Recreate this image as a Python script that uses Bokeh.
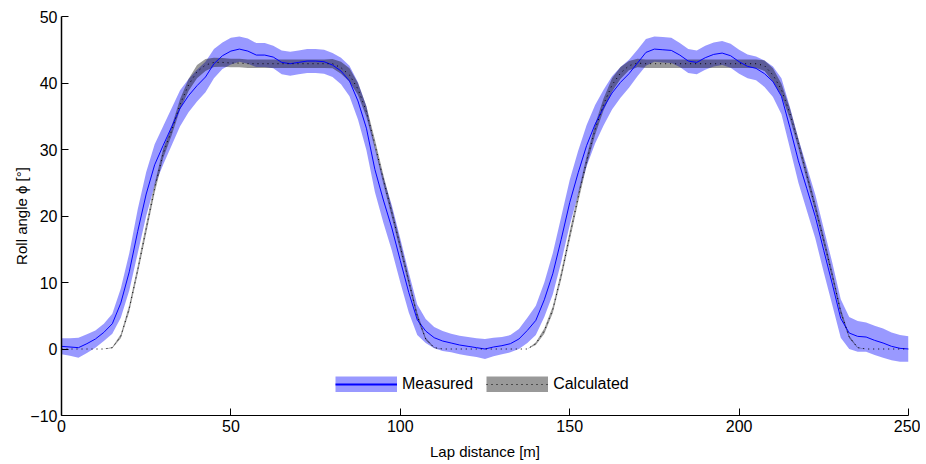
from bokeh.plotting import figure
from bokeh.models import Range1d, Legend, LegendItem, FixedTicker, ColumnDataSource
from bokeh.embed import file_html
from bokeh.resources import INLINE

# Lap distance grid [m]
dist = [0, 2.5, 5, 7.5, 10, 12.5, 15, 17.5, 20, 22.5, 25, 27.5, 30, 32.5, 35, 37.5,
        40, 42.5, 45, 47.5, 50, 52.5, 55, 57.5, 60, 62.5, 65, 67.5, 70, 72.5, 75, 77.5,
        80, 82.5, 85, 87.5, 90, 92.5, 95, 97.5, 100, 102.5, 105, 107.5, 110, 112.5, 115,
        117.5, 120, 122.5, 125, 127.5, 130, 132.5, 135, 137.5, 140, 142.5, 145, 147.5,
        150, 152.5, 155, 157.5, 160, 162.5, 165, 167.5, 170, 172.5, 175, 177.5, 180,
        182.5, 185, 187.5, 190, 192.5, 195, 197.5, 200, 202.5, 205, 207.5, 210, 212.5,
        215, 217.5, 220, 222.5, 225, 227.5, 230, 232.5, 235, 237.5, 240, 242.5, 245,
        247.5, 250]

# Measured roll angle (mean) and its spread
measured = [0.4, 0.3, 0.2, 0.8, 1.5, 2.5, 3.8, 6.9, 11.6, 17.7, 23.3, 27.7, 30.6, 33.4,
            36.2, 38.1, 39.6, 40.9, 42.9, 44.1, 44.8, 45.1, 44.8, 44.2, 44.2, 43.9, 43.1,
            42.9, 43.1, 43.3, 43.3, 43.2, 42.7, 41.8, 40.3, 37.3, 33.2, 27.0, 22.4, 18.2,
            13.3, 8.5, 4.4, 2.7, 1.7, 1.2, 0.9, 0.6, 0.4, 0.2, 0.0, 0.3, 0.5, 0.8, 1.5,
            2.8, 4.3, 7.4, 11.3, 16.5, 22.0, 26.5, 30.6, 33.8, 36.3, 38.5, 40.1, 41.4,
            43.0, 44.6, 45.1, 45.0, 44.9, 44.2, 43.3, 43.1, 43.8, 44.3, 44.5, 44.1, 43.2,
            42.5, 42.2, 41.4, 40.2, 38.0, 33.3, 28.3, 24.1, 19.9, 14.8, 9.8, 4.6, 2.4,
            1.9, 1.8, 1.3, 0.9, 0.4, 0.1, 0.0]
measured_sd = [1.2, 1.3, 1.5, 1.4, 1.3, 1.3, 1.5, 2.2, 2.8, 3.3, 3.3, 3.1, 2.9, 2.8, 2.7,
               2.5, 2.4, 2.3, 2.2, 2.0, 2.0, 1.9, 1.9, 1.8, 1.8, 1.7, 1.8, 1.8, 1.8, 1.8,
               1.8, 1.8, 1.8, 2.0, 2.3, 2.8, 3.3, 3.4, 3.4, 3.4, 3.3, 3.0, 2.3, 1.8, 1.6,
               1.5, 1.4, 1.4, 1.4, 1.4, 1.5, 1.4, 1.3, 1.3, 1.5, 1.9, 2.2, 2.6, 3.1, 3.4,
               3.4, 3.3, 3.1, 2.9, 2.7, 2.5, 2.3, 2.1, 2.0, 2.0, 1.9, 1.9, 1.9, 1.8, 1.8,
               1.8, 1.8, 1.8, 1.8, 1.8, 1.8, 1.8, 1.8, 2.0, 2.3, 2.7, 3.1, 3.3, 3.3, 3.3,
               3.3, 3.2, 2.9, 2.4, 2.3, 2.2, 2.2, 2.2, 2.1, 2.0, 1.9]

# Calculated roll angle and its spread
calculated = [0.0, 0.0, 0.0, 0.0, 0.0, 0.0, 0.2, 1.9, 6.1, 11.9, 18.1, 24.2, 29.4, 32.8,
              36.8, 39.7, 41.7, 42.7, 43.1, 43.1, 43.0, 43.0, 42.9, 42.9, 42.9, 42.9, 42.9,
              42.9, 42.9, 42.9, 42.9, 42.9, 42.9, 42.3, 41.2, 39.1, 35.7, 30.8, 25.5, 20.5,
              15.4, 10.2, 5.0, 1.5, 0.2, 0.0, 0.0, 0.0, 0.0, 0.0, 0.0, 0.0, 0.0, 0.0, 0.0,
              0.0, 0.8, 2.7, 5.9, 11.1, 17.0, 22.8, 28.3, 33.0, 36.8, 39.7, 41.5, 42.6,
              43.0, 42.9, 42.9, 42.9, 42.9, 42.9, 42.9, 42.9, 42.9, 42.9, 42.9, 42.9, 42.9,
              42.9, 42.9, 42.6, 41.2, 39.0, 35.4, 30.9, 26.1, 21.3, 16.3, 11.1, 5.6, 1.8,
              0.2, 0.0, 0.0, 0.0, 0.0, 0.0, 0.0]
calculated_sd = [0.0, 0.0, 0.0, 0.0, 0.0, 0.0, 0.1, 0.3, 0.5, 0.6, 0.7, 0.7, 0.7, 0.7,
                 0.8, 0.9, 1.0, 0.9, 0.7, 0.65, 0.65, 0.65, 0.65, 0.65, 0.65, 0.65, 0.65,
                 0.65, 0.65, 0.65, 0.65, 0.65, 0.7, 0.9, 1.0, 0.9, 0.8, 0.7, 0.7, 0.7,
                 0.7, 0.6, 0.5, 0.2, 0.05, 0.0, 0.0, 0.0, 0.0, 0.0, 0.0, 0.0, 0.0, 0.0,
                 0.0, 0.0, 0.2, 0.4, 0.5, 0.6, 0.7, 0.7, 0.7, 0.8, 0.9, 1.0, 0.9, 0.7,
                 0.65, 0.65, 0.65, 0.65, 0.65, 0.65, 0.65, 0.65, 0.65, 0.65, 0.65, 0.65,
                 0.65, 0.65, 0.65, 0.8, 1.0, 0.9, 0.8, 0.7, 0.7, 0.7, 0.7, 0.6, 0.5, 0.2,
                 0.05, 0.0, 0.0, 0.0, 0.0, 0.0, 0.0]

x_ticks = [0, 50, 100, 150, 200, 250]
y_ticks = [-10, 0, 10, 20, 30, 40, 50]
series_labels = ["Measured", "Calculated"]

src = ColumnDataSource(dict(
    d=dist,
    m=measured,
    m_lo=[a - b for a, b in zip(measured, measured_sd)],
    m_hi=[a + b for a, b in zip(measured, measured_sd)],
    c=calculated,
    c_lo=[a - b for a, b in zip(calculated, calculated_sd)],
    c_hi=[a + b for a, b in zip(calculated, calculated_sd)],
))

FONT = "Liberation Sans"
BLUE = "#0000ff"

p = figure(width=920, height=464, output_backend="svg", toolbar_location=None,
           x_range=Range1d(0, 250), y_range=Range1d(-10, 50),
           min_border_left=61, min_border_right=12, min_border_top=16,
           min_border_bottom=49)
p.outline_line_color = None
p.grid.visible = False
p.background_fill_color = "white"

band_m = p.varea(x="d", y1="m_lo", y2="m_hi", source=src,
                 fill_color=BLUE, fill_alpha=0.4)
band_c = p.varea(x="d", y1="c_lo", y2="c_hi", source=src,
                 fill_color="#000000", fill_alpha=0.4)
line_m = p.line(x="d", y="m", source=src, line_color=BLUE, line_width=1)
line_c = p.line(x="d", y="c", source=src, line_color="black", line_width=1,
                line_dash="1 4")

# Legend-only renderers (hidden in the plot): a thick stroke stands for each band
leg_band_m = p.line(x="d", y="m", source=src, line_color=BLUE, line_alpha=0.4,
                    line_width=16, line_cap="butt", visible=False)
leg_band_c = p.line(x="d", y="c", source=src, line_color="black", line_alpha=0.4,
                    line_width=16, line_cap="butt", visible=False)
leg_line_m = p.line(x="d", y="m", source=src, line_color=BLUE, line_width=2,
                    visible=False)
leg_line_c = p.line(x="d", y="c", source=src, line_color="black", line_width=1,
                    line_dash="1 4", visible=False)

for ax in (p.xaxis[0], p.yaxis[0]):
    ax.major_tick_in = 7
    ax.major_tick_out = 0
    ax.minor_tick_in = 0
    ax.minor_tick_out = 0
    ax.axis_line_color = "black"
    ax.major_tick_line_color = "black"
    ax.major_label_text_font = FONT
    ax.major_label_text_font_size = "16px"
    ax.major_label_text_color = "black"
    ax.axis_label_text_font = FONT
    ax.axis_label_text_font_style = "normal"
    ax.axis_label_text_color = "black"
    ax.axis_label_text_font_size = "15px"

p.xaxis.ticker = FixedTicker(ticks=x_ticks)
p.yaxis.ticker = FixedTicker(ticks=y_ticks)
p.xaxis.axis_label = "Lap distance [m]"
p.yaxis.axis_label = "Roll angle \u03d5 [\u00b0]"
p.xaxis.major_label_standoff = 4
p.xaxis.axis_label_standoff = 8
p.yaxis.major_label_standoff = 4
p.yaxis.axis_label_standoff = -3
p.yaxis.axis_line_width = 1.5
p.xaxis.axis_line_width = 1

legend = Legend(items=[LegendItem(label=series_labels[0], renderers=[leg_band_m, leg_line_m]),
                       LegendItem(label=series_labels[1], renderers=[leg_band_c, leg_line_c])],
                orientation="horizontal", location=(274, 22),
                border_line_color=None, background_fill_alpha=0,
                inactive_fill_alpha=0,
                padding=0, spacing=13, margin=0,
                glyph_width=62, glyph_height=16, label_height=16,
                label_standoff=5, label_text_font=FONT,
                label_text_font_size="16px", label_text_color="black")
p.add_layout(legend)

open("out.html", "w").write(file_html(p, INLINE))
